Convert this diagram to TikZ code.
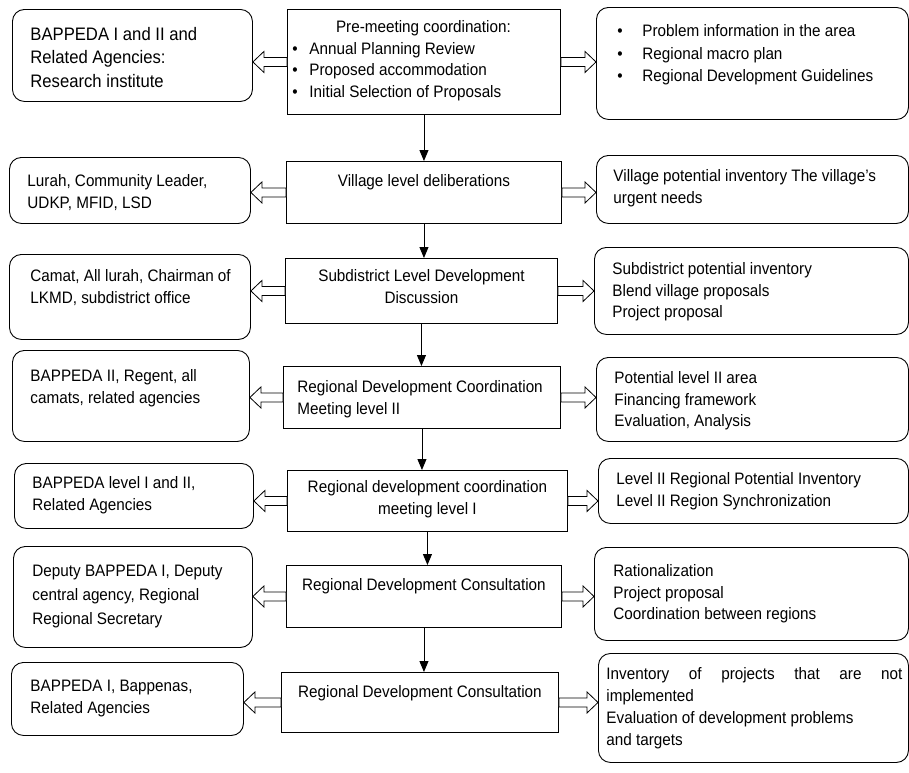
\documentclass[tikz,border=0pt]{standalone}
\usepackage{fontspec}
\setmainfont[FakeStretch=0.92]{Liberation Sans}
\usetikzlibrary{arrows.meta,calc}
% #1 style, #2 name, #3 x1, #4 y1, #5 x2, #6 y2, #7 left pad, #8 first baseline from top, #9 text
\newcommand{\cellnode}[9]{%
  \node[#1, anchor=north west] (#2) at (#3,-#4) {\hspace*{#7pt}\parbox[c][\dimexpr #6pt-#4pt\relax][t]{\dimexpr #5pt-#3pt-#7pt-6pt\relax}{\vspace*{\dimexpr #8pt-\ht\strutbox\relax}\strut #9}\hspace*{6pt}};}
% hollow block arrow from #1 (tail) to #2 (tip)
\newcommand{\harr}[2]{%
  \draw[hollow] let \p1=(#1), \p2=(#2), \n2={\x2-11*((\x2>\x1)*2-1)} in
    (\x1,\y1+4.5pt) -- (\n2,\y1+4.5pt) -- (\n2,\y1+10.5pt) -- (\x2,\y1)
    -- (\n2,\y1-10.5pt) -- (\n2,\y1-4.5pt) -- (\x1,\y1-4.5pt) -- cycle;}
\begin{document}
\begin{tikzpicture}[x=1pt,y=1pt,
  font=\fontsize{16.6}{21.5}\selectfont,
  rbox/.style={draw, rounded corners=12pt, line width=0.9pt, inner sep=0pt},
  sbox/.style={draw, line width=0.9pt, inner sep=0pt},
  hollow/.style={draw, fill=white, line width=0.8pt, line join=miter},
  varr/.style={draw, line width=0.9pt, -{Triangle[length=11pt,width=9pt]}}]
\useasboundingbox (0,0) rectangle (909,-772);

% Row 1
\cellnode{rbox, font=\fontsize{18.1}{23.5}\selectfont}{l1}{12}{9}{252}{101}{18}{31}{\raggedright BAPPEDA I and II and\\Related Agencies:\\Research institute}
\cellnode{sbox}{c1}{287}{9}{560}{114}{5}{23.5}{{\centering Pre-meeting coordination:\par}\raggedright\makebox[17pt][l]{•}Annual Planning Review\\\makebox[17pt][l]{•}Proposed accommodation\\\makebox[17pt][l]{•}Initial Selection of Proposals}
\cellnode{rbox, font=\fontsize{16.6}{22.5}\selectfont}{r1}{596}{7}{908}{119}{21}{29.5}{\raggedright\makebox[25pt][l]{•}Problem information in the area\\\makebox[25pt][l]{•}Regional macro plan\\\makebox[25pt][l]{•}Regional Development Guidelines}

% Row 2
\cellnode{rbox}{l2}{9}{157}{250}{223}{18}{29.5}{\raggedright Lurah, Community Leader,\\UDKP, MFID, LSD}
\cellnode{sbox}{c2}{286}{161}{561}{223}{6}{25.5}{\centering Village level deliberations}
\cellnode{rbox}{r2}{596}{155}{908}{223}{17}{26.5}{\raggedright Village potential inventory The village's\\urgent needs}

% Row 3
\cellnode{rbox}{l3}{9}{254}{250}{339}{21}{27.5}{\raggedright Camat, All lurah, Chairman of\\LKMD, subdistrict office}
\cellnode{sbox}{c3}{285}{258}{557}{323}{6}{23.5}{\centering Subdistrict Level Development\\Discussion}
\cellnode{rbox}{r3}{594}{247}{908}{334}{18}{27.5}{\raggedright Subdistrict potential inventory\\Blend village proposals\\Project proposal}

% Row 4
\cellnode{rbox}{l4}{12}{350}{249}{441}{18}{31.5}{\raggedright BAPPEDA II, Regent, all\\camats, related agencies}
\cellnode{sbox}{c4}{283}{366}{560}{428}{14}{26.5}{\raggedright Regional Development Coordination\\Meeting level II}
\cellnode{rbox}{r4}{596}{357}{908}{441}{18}{26.5}{\raggedright Potential level II area\\Financing framework\\Evaluation, Analysis}

% Row 5
\cellnode{rbox}{l5}{14}{463}{253}{528}{18}{25.5}{\raggedright BAPPEDA level I and II,\\Related Agencies}
\cellnode{sbox}{c5}{287}{470}{567}{531}{6}{22.5}{\centering Regional development coordination\\meeting level I}
\cellnode{rbox}{r5}{598}{458}{908}{523}{18}{26.5}{\raggedright Level II Regional Potential Inventory\\Level II Region Synchronization}

% Row 6
\cellnode{rbox, font=\fontsize{16.6}{24}\selectfont}{l6}{13}{546}{252}{647}{19}{30.5}{\raggedright Deputy BAPPEDA I, Deputy\\central agency, Regional\\Regional Secretary}
\cellnode{sbox}{c6}{286}{565}{561}{627}{6}{25.5}{\centering Regional Development Consultation}
\cellnode{rbox}{r6}{594}{547}{908}{640}{19}{29.5}{\raggedright Rationalization\\Project proposal\\Coordination between regions}

% Row 7
\cellnode{rbox}{l7}{11}{662}{243}{735}{19}{29.5}{\raggedright BAPPEDA I, Bappenas,\\Related Agencies}
\cellnode{sbox}{c7}{281}{672}{558}{732}{6}{25.5}{\centering Regional Development Consultation}
\cellnode{rbox, font=\fontsize{16.6}{22}\selectfont}{r7}{598}{653}{908}{762}{8}{26.5}{\raggedright Inventory\hspace{0pt plus 1filll}of\hspace{0pt plus 1filll}projects\hspace{0pt plus 1filll}that\hspace{0pt plus 1filll}are\hspace{0pt plus 1filll}not\\implemented\\Evaluation of development problems\\and targets}

% vertical flow arrows
\draw[varr] (c1.south) -- (c1.south |- c2.north);
\draw[varr] (c2.south) -- (c2.south |- c3.north);
\draw[varr] (c3.south) -- (c3.south |- c4.north);
\draw[varr] (c4.south) -- (c4.south |- c5.north);
\draw[varr] (c5.south) -- (c5.south |- c6.north);
\draw[varr] (c6.south) -- (c6.south |- c7.north);

% hollow block arrows
\harr{c1.west}{l1.east |- c1.west}
\harr{c1.east}{r1.west |- c1.east}
\harr{c2.west}{l2.east |- c2.west}
\harr{c2.east}{r2.west |- c2.east}
\harr{c3.west}{l3.east |- c3.west}
\harr{c3.east}{r3.west |- c3.east}
\harr{c4.west}{l4.east |- c4.west}
\harr{c4.east}{r4.west |- c4.east}
\harr{c5.west}{l5.east |- c5.west}
\harr{c5.east}{r5.west |- c5.east}
\harr{c6.west}{l6.east |- c6.west}
\harr{c6.east}{r6.west |- c6.east}
\harr{c7.west}{l7.east |- c7.west}
\harr{c7.east}{r7.west |- c7.east}
\end{tikzpicture}
\end{document}
